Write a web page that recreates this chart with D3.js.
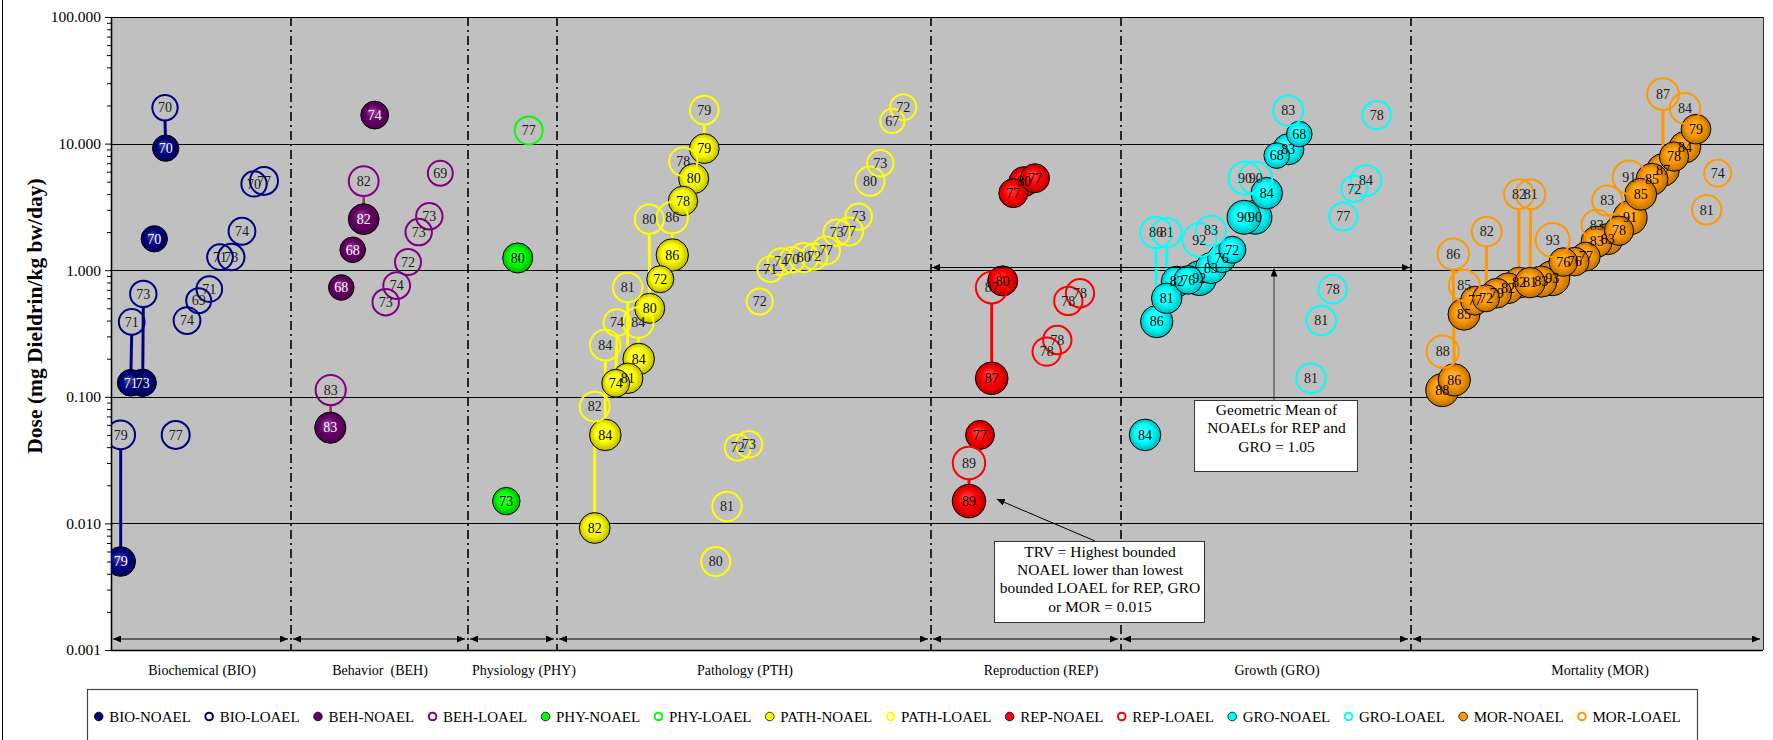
<!DOCTYPE html>
<html>
<head>
<meta charset="utf-8">
<script src="https://cdn.jsdelivr.net/npm/d3@7"></script>
<style>
  html, body { margin: 0; padding: 0; background: #fff; }
  svg { display: block; font-family: "Liberation Serif", "Times New Roman", serif; }
</style>
</head>
<body>
<svg id="chart" width="1773" height="740"></svg>
<script>
// Each study: [position along the study axis, dose in mg Dieldrin/kg bw/day, study year]
const bioNoael = [[5.47, 9.2, 70], [4.33, 1.77, 70], [1.97, 0.129, 71], [3.17, 0.129, 73], [0.97, 0.005, 79]];
const bioLoael = [[5.40, 19.2, 70], [0.97, 0.05, 79], [6.47, 0.05, 77], [2.07, 0.39, 71], [3.23, 0.65, 73],
  [7.60, 0.40, 74], [8.77, 0.575, 69], [9.83, 0.71, 71], [10.90, 1.27, 71], [12.03, 1.27, 73],
  [13.10, 2.03, 74], [14.30, 4.8, 70], [15.30, 5.07, 77]];
const bioLinks = [[0, 0], [1, 4], [3, 2], [4, 3]];

const behNoael = [[26.37, 16.8, 74], [25.27, 2.53, 82], [24.17, 1.45, 68], [23.03, 0.73, 68], [21.93, 0.057, 83]];
const behLoael = [[25.27, 5.05, 82], [32.93, 5.84, 69], [31.83, 2.67, 73], [30.77, 2.0, 73], [29.70, 1.16, 72],
  [28.57, 0.756, 74], [27.47, 0.559, 73], [21.97, 0.113, 83]];
const behLinks = [[0, 1], [7, 4]];

const phyNoael = [[40.67, 1.25, 80], [39.53, 0.015, 73]];
const phyLoael = [[41.77, 12.7, 77]];
const phyLinks = [];

const pthNoael = [[59.33, 9.13, 79], [58.27, 5.29, 80], [57.20, 3.53, 78], [56.13, 1.32, 86], [54.93, 0.849, 72],
  [53.87, 0.50, 80], [52.77, 0.199, 84], [51.67, 0.140, 81], [50.47, 0.128, 74], [49.43, 0.05, 84],
  [48.37, 0.0092, 82]];
const pthLoael = [[59.33, 18.4, 79], [57.23, 7.2, 78], [53.83, 2.53, 80], [56.13, 2.6, 86], [51.67, 0.729, 81],
  [50.60, 0.386, 74], [52.73, 0.386, 84], [49.43, 0.256, 84], [48.37, 0.0837, 82], [64.87, 0.565, 72],
  [65.93, 1.02, 71], [67.00, 1.17, 74], [68.13, 1.21, 70], [69.27, 1.26, 80], [70.33, 1.28, 72],
  [71.50, 1.43, 77], [72.57, 1.98, 73], [73.80, 2.02, 77], [74.77, 2.65, 73], [75.90, 5.05, 80],
  [76.93, 7.0, 73], [78.13, 15.1, 67], [79.23, 19.4, 72], [62.67, 0.0397, 72], [63.80, 0.0422, 73],
  [61.60, 0.0136, 81], [60.47, 0.005, 80]];
const pthLinks = [[0, 0], [3, 3], [2, 5], [4, 7], [5, 8], [7, 9], [8, 10], [6, 6]];

const repNoael = [[90.23, 4.06, 77], [91.30, 5.0, 80], [92.40, 5.33, 77], [89.17, 0.823, 80], [88.07, 0.14, 87],
  [86.90, 0.05, 77], [85.80, 0.015, 89]];
const repLoael = [[88.07, 0.729, 87], [96.90, 0.658, 78], [95.73, 0.572, 78], [94.63, 0.281, 78],
  [93.57, 0.2275, 78], [85.80, 0.03, 89]];
const repLinks = [[0, 4], [5, 6]];

const groNoael = [[118.83, 11.9, 68], [117.73, 9.03, 83], [116.57, 8.04, 68], [115.57, 4.06, 84], [114.40, 2.62, 90],
  [113.30, 2.62, 90], [112.13, 1.45, 72], [111.07, 1.24, 76], [110.00, 1.04, 83], [108.83, 0.865, 92],
  [107.73, 0.838, 76], [106.57, 0.813, 82], [105.57, 0.6, 81], [104.57, 0.393, 86], [103.40, 0.05, 84]];
const groLoael = [[117.73, 18.2, 83], [126.57, 16.8, 78], [113.40, 5.33, 90], [114.47, 5.33, 90], [125.50, 5.1, 84],
  [124.33, 4.39, 72], [123.23, 2.65, 77], [104.50, 1.98, 86], [105.57, 1.98, 81], [110.00, 2.05, 83],
  [108.83, 1.73, 92], [122.17, 0.708, 78], [121.03, 0.40, 81], [120.00, 0.14, 81]];
const groLinks = [[7, 13], [8, 12]];

const morNoael = [[158.50, 13.0, 79], [157.40, 9.37, 84], [156.30, 7.9, 78], [155.20, 6.2, 87], [154.10, 5.23, 85],
  [152.97, 3.98, 85], [151.90, 2.6, 91], [150.80, 2.05, 78], [149.67, 1.76, 83], [148.57, 1.68, 83],
  [147.47, 1.28, 77], [146.37, 1.17, 76], [145.23, 1.16, 76], [144.13, 0.865, 93], [143.03, 0.813, 83],
  [141.90, 0.798, 81], [140.80, 0.798, 82], [139.70, 0.72, 82], [138.57, 0.658, 79], [137.50, 0.60, 72],
  [136.40, 0.575, 77], [135.30, 0.449, 85], [134.33, 0.136, 86], [133.13, 0.113, 88]];
const morLoael = [[155.20, 24.6, 87], [157.40, 19.0, 84], [160.67, 5.84, 74], [159.57, 3.0, 81], [151.83, 5.43, 91],
  [149.63, 3.55, 83], [148.57, 2.28, 83], [140.80, 3.98, 82], [141.97, 3.98, 81], [144.17, 1.73, 93],
  [137.57, 2.02, 82], [134.23, 1.34, 86], [135.33, 0.756, 85], [133.17, 0.2275, 88]];
const morLinks = [[0, 3], [7, 16], [8, 15], [10, 19], [11, 22], [12, 21], [13, 23]];

// Effect categories along the x axis
const categories = ["Biochemical (BIO)", "Behavior  (BEH)", "Physiology (PHY)", "Pathology (PTH)",
  "Reproduction (REP)", "Growth (GRO)", "Mortality (MOR)"];
const categoryBounds = [0, 18.0, 35.7, 44.6, 82.0, 101.0, 130.0, 165.2];
const categoryLabelPos = [9.1, 26.9, 41.3, 63.4, 93.0, 116.6, 148.9];

const yTicks = [100, 10, 1, 0.1, 0.01, 0.001];
const geoMeanDose = 1.05;
const trvDose = 0.015;

const series = [
  { key: "BIO",  color: "#000080", ring: "#000080", link: "#000080", text: "#ffffff", noael: bioNoael, loael: bioLoael, links: bioLinks },
  { key: "BEH",  color: "#660066", ring: "#800080", link: "#993366", text: "#ffffff", noael: behNoael, loael: behLoael, links: behLinks },
  { key: "PHY",  color: "#00ff00", ring: "#00ff00", link: "#00ff00", text: "#000000", noael: phyNoael, loael: phyLoael, links: phyLinks },
  { key: "PATH", color: "#ffff00", ring: "#ffff00", link: "#ffff00", text: "#000000", noael: pthNoael, loael: pthLoael, links: pthLinks },
  { key: "REP",  color: "#ff0000", ring: "#ff0000", link: "#ff0000", text: "#000000", noael: repNoael, loael: repLoael, links: repLinks },
  { key: "GRO",  color: "#00ffff", ring: "#00ffff", link: "#00ffff", text: "#000000", noael: groNoael, loael: groLoael, links: groLinks },
  { key: "MOR",  color: "#ff9900", ring: "#ff9900", link: "#ff9900", text: "#000000", noael: morNoael, loael: morLoael, links: morLinks }
];

// ---- layout ----
const plot = { left: 111, right: 1763, top: 17, bottom: 650 };
const svg = d3.select("#chart");

const x = d3.scaleLinear().domain([categoryBounds[0], categoryBounds[categoryBounds.length - 1]]).range([plot.left, plot.right]);
const y = d3.scaleLog().domain([0.001, 100]).range([plot.bottom, plot.top]);
const r = d3.scaleLinear().domain([0, 100]).range([0, 18.8]);

const defs = svg.append("defs");
defs.append("clipPath").attr("id", "plotClip").append("rect")
  .attr("x", plot.left).attr("y", plot.top)
  .attr("width", plot.right - plot.left).attr("height", plot.bottom - plot.top);

// shaded (3-D) bubble fills
series.forEach(s => {
  const g = defs.append("radialGradient").attr("id", "grad-" + s.key)
    .attr("cx", "50%").attr("cy", "50%").attr("r", "50%").attr("fx", "40%").attr("fy", "36%");
  g.append("stop").attr("offset", "0%").attr("stop-color", d3.interpolateRgb(s.color, "#ffffff")(0.3));
  g.append("stop").attr("offset", "55%").attr("stop-color", s.color);
  g.append("stop").attr("offset", "100%").attr("stop-color", d3.color(s.color).darker(0.9).formatHex());
});

defs.append("marker").attr("id", "arrow").attr("markerUnits", "userSpaceOnUse")
  .attr("markerWidth", 8).attr("markerHeight", 7).attr("refX", 8).attr("refY", 3.5)
  .attr("orient", "auto-start-reverse")
  .append("path").attr("d", "M0,0 L8,3.5 L0,7 Z").attr("fill", "#000");

// chart area frame (left edge)
svg.append("line").attr("x1", 2.5).attr("x2", 2.5).attr("y1", 0).attr("y2", 740)
  .attr("stroke", "#000").attr("stroke-width", 1);

// plot background
svg.append("rect").attr("x", plot.left).attr("y", plot.top)
  .attr("width", plot.right - plot.left).attr("height", plot.bottom - plot.top)
  .attr("fill", "#c0c0c0");

// horizontal gridlines
svg.append("g").selectAll("line").data(yTicks.filter(d => d > 0.001)).join("line")
  .attr("x1", plot.left).attr("x2", plot.right)
  .attr("y1", d => Math.round(y(d)) + 0.5).attr("y2", d => Math.round(y(d)) + 0.5)
  .attr("stroke", "#000").attr("stroke-width", 1);

// right border of plot
svg.append("line").attr("x1", plot.right + 0.5).attr("x2", plot.right + 0.5)
  .attr("y1", plot.top).attr("y2", plot.bottom).attr("stroke", "#333").attr("stroke-width", 1);

// category separators
svg.append("g").selectAll("line").data(categoryBounds.slice(1, -1)).join("line")
  .attr("x1", d => x(d)).attr("x2", d => x(d))
  .attr("y1", plot.top).attr("y2", plot.bottom)
  .attr("stroke", "#000").attr("stroke-width", 1.6)
  .attr("stroke-dasharray", "9,4,2,4");

// category span arrows along the bottom
const spanY = plot.bottom - 11;
svg.append("g").selectAll("line").data(d3.range(categories.length)).join("line")
  .attr("x1", i => x(categoryBounds[i]) + 2).attr("x2", i => x(categoryBounds[i + 1]) - 3)
  .attr("y1", spanY).attr("y2", spanY)
  .attr("stroke", "#000").attr("stroke-width", 1)
  .attr("marker-start", "url(#arrow)").attr("marker-end", "url(#arrow)");

// y axis
const fmt = d3.format(".3f");
const minorTicks = [];
[0.001, 0.01, 0.1, 1, 10].forEach(dec => { for (let k = 2; k <= 9; k++) minorTicks.push(dec * k); });

const yAxisMinor = svg.append("g").attr("transform", `translate(${plot.left},0)`)
  .call(d3.axisLeft(y).tickValues(minorTicks).tickSize(4).tickFormat(""));
yAxisMinor.select(".domain").remove();
yAxisMinor.selectAll("line").attr("stroke", "#000");

const yAxis = svg.append("g").attr("transform", `translate(${plot.left},0)`)
  .call(d3.axisLeft(y).tickValues(yTicks).tickSize(6).tickPadding(4).tickFormat(fmt));
yAxis.select(".domain").attr("stroke", "#000").attr("stroke-width", 1.6).attr("d", `M0.5,${plot.top}V${plot.bottom}`);
yAxis.selectAll("line").attr("stroke", "#000");
yAxis.selectAll("text").attr("font-family", "Liberation Serif, serif").attr("font-size", 15.5).attr("fill", "#000");

// x axis baseline
svg.append("line").attr("x1", plot.left).attr("x2", plot.right)
  .attr("y1", plot.bottom + 0.5).attr("y2", plot.bottom + 0.5)
  .attr("stroke", "#000").attr("stroke-width", 1.4);

// y axis title
svg.append("text")
  .attr("transform", "translate(42,316) rotate(-90)")
  .attr("text-anchor", "middle").attr("font-size", 21.5).attr("font-weight", "bold")
  .text("Dose (mg Dieldrin/kg bw/day)");

// category labels
svg.append("g").selectAll("text").data(categories).join("text")
  .attr("x", (d, i) => x(categoryLabelPos[i])).attr("y", 675)
  .attr("text-anchor", "middle").attr("font-size", 14).style("white-space", "pre")
  .text(d => d);

// ---- study marks ----
const toPt = d => ({ pos: d[0], dose: d[1], year: d[2] });
const marks = svg.append("g").attr("clip-path", "url(#plotClip)");

// NOAEL–LOAEL connectors
series.forEach(s => {
  marks.append("g").selectAll("line").data(s.links).join("line")
    .attr("x1", l => x(s.loael[l[0]][0]))
    .attr("y1", l => y(s.loael[l[0]][1]) + r(s.loael[l[0]][2]) - 1)
    .attr("x2", l => x(s.noael[l[1]][0]))
    .attr("y2", l => y(s.noael[l[1]][1]))
    .attr("stroke", s.link).attr("stroke-width", s.key === "BEH" ? 2.5 : 3);
});

series.forEach(s => {
  const filled = s.noael.map(toPt).sort((a, b) => b.year - a.year);
  marks.append("g").selectAll("circle").data(filled).join("circle")
    .attr("cx", d => x(d.pos)).attr("cy", d => y(d.dose)).attr("r", d => r(d.year))
    .attr("fill", `url(#grad-${s.key})`).attr("stroke", "#000").attr("stroke-width", 1);
  const open = s.loael.map(toPt).sort((a, b) => b.year - a.year);
  marks.append("g").selectAll("circle").data(open).join("circle")
    .attr("cx", d => x(d.pos)).attr("cy", d => y(d.dose)).attr("r", d => r(d.year) - 0.5)
    .attr("fill", "none").attr("stroke", s.ring).attr("stroke-width", 2);
});

// year labels
series.forEach(s => {
  const lab = marks.append("g").attr("font-size", 14).attr("text-anchor", "middle");
  lab.selectAll("text.n").data(s.noael.map(toPt)).join("text").attr("class", "n")
    .attr("x", d => x(d.pos)).attr("y", d => y(d.dose)).attr("dy", "0.34em")
    .attr("fill", s.text).text(d => d.year);
  lab.selectAll("text.l").data(s.loael.map(toPt)).join("text").attr("class", "l")
    .attr("x", d => x(d.pos)).attr("y", d => y(d.dose)).attr("dy", "0.34em")
    .attr("fill", "#1a1a1a").text(d => d.year);
});

// ---- annotations ----
const ann = svg.append("g");

// geometric mean of REP and GRO NOAELs
const gmY = y(geoMeanDose);
ann.append("line").attr("x1", x(categoryBounds[4]) + 1).attr("x2", x(categoryBounds[6]) - 1)
  .attr("y1", gmY).attr("y2", gmY).attr("stroke", "#000").attr("stroke-width", 1)
  .attr("marker-start", "url(#arrow)").attr("marker-end", "url(#arrow)");
const gmBox = { x: 1194, y: 400, w: 163, h: 71 };
ann.append("line").attr("x1", 1274).attr("x2", 1274).attr("y1", gmBox.y).attr("y2", gmY + 1)
  .attr("stroke", "#333").attr("stroke-width", 1).attr("marker-end", "url(#arrow)");
ann.append("rect").attr("x", gmBox.x + 0.5).attr("y", gmBox.y + 0.5).attr("width", gmBox.w).attr("height", gmBox.h)
  .attr("fill", "#fff").attr("stroke", "#333").attr("stroke-width", 1);
ann.append("text").attr("text-anchor", "middle").attr("font-size", 15.5)
  .selectAll("tspan").data(["Geometric Mean of", "NOAELs for REP and", "GRO = " + geoMeanDose.toFixed(2)]).join("tspan")
  .attr("x", gmBox.x + gmBox.w / 2 + 1).attr("y", (d, i) => 415 + i * 18.4).text(d => d);

// toxicity reference value
const trvStudy = repNoael.find(d => d[1] === trvDose);
const trvTarget = [x(trvStudy[0]) + r(trvStudy[2]) + 11, y(trvStudy[1]) - 2];
const trvBox = { x: 994, y: 541, w: 210, h: 81 };
ann.append("line").attr("x1", 1095).attr("y1", trvBox.y).attr("x2", trvTarget[0]).attr("y2", trvTarget[1])
  .attr("stroke", "#000").attr("stroke-width", 1).attr("marker-end", "url(#arrow)");
ann.append("rect").attr("x", trvBox.x + 0.5).attr("y", trvBox.y + 0.5).attr("width", trvBox.w).attr("height", trvBox.h)
  .attr("fill", "#fff").attr("stroke", "#333").attr("stroke-width", 1);
ann.append("text").attr("text-anchor", "middle").attr("font-size", 15.5)
  .selectAll("tspan").data(["TRV = Highest bounded", "NOAEL lower than lowest", "bounded LOAEL for REP, GRO", "or MOR = " + trvDose.toFixed(3)]).join("tspan")
  .attr("x", trvBox.x + trvBox.w / 2 + 1).attr("y", (d, i) => 557 + i * 18.2).text(d => d);

// ---- legend ----
svg.append("rect").attr("x", 87.5).attr("y", 689.5).attr("width", 1610).attr("height", 80)
  .attr("fill", "#fff").attr("stroke", "#444").attr("stroke-width", 1.2);
const legendItems = [];
series.forEach(s => {
  legendItems.push({ label: s.key + "-NOAEL", s, filled: true });
  legendItems.push({ label: s.key + "-LOAEL", s, filled: false });
});
const legY = 716.5;
let lx = 98.7;
const leg = svg.append("g");
legendItems.forEach(it => {
  if (it.filled) {
    leg.append("circle").attr("cx", lx).attr("cy", legY).attr("r", 4.3)
      .attr("fill", it.s.color).attr("stroke", "#000").attr("stroke-width", 0.8);
  } else {
    leg.append("circle").attr("cx", lx).attr("cy", legY).attr("r", 3.8)
      .attr("fill", "none").attr("stroke", it.s.ring).attr("stroke-width", 2);
  }
  const t = leg.append("text").attr("x", lx + 10.5).attr("y", legY + 5.3).attr("font-size", 15).text(it.label);
  lx = lx + 10.5 + t.node().getComputedTextLength() + 18.3;
});
</script>
</body>
</html>
